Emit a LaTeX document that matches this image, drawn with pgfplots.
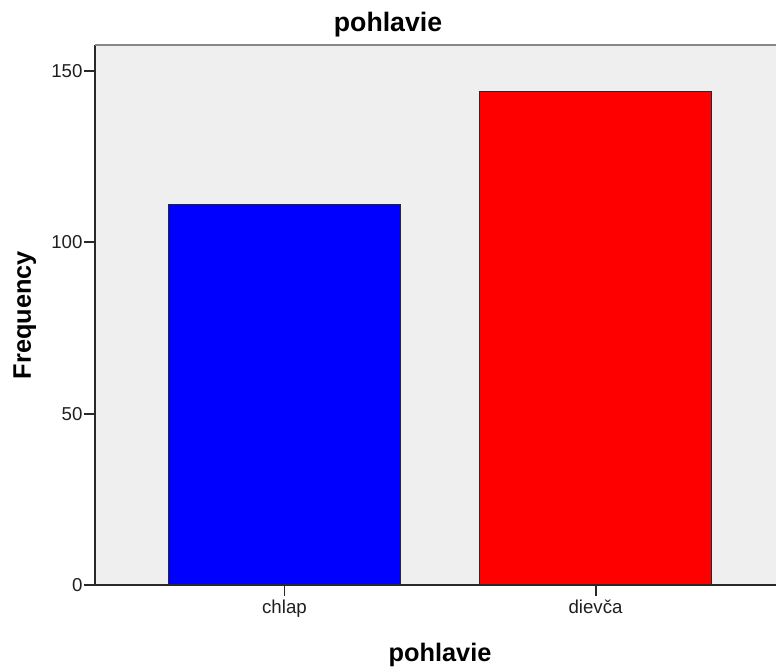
\documentclass[border=0pt]{standalone}
\usepackage{pgfplots}
\pgfplotsset{compat=1.18}
\usepackage{fontspec}
\setmainfont{Liberation Sans}
\definecolor{bgc}{RGB}{239,239,239}
\definecolor{axc}{RGB}{40,40,40}
\definecolor{topc}{RGB}{135,135,135}
\begin{document}
\begin{tikzpicture}
\begin{axis}[
  name=ax, at={(0,0)}, anchor=south west,
  scale only axis, width=510.75pt, height=405pt,
  xmin=-0.609, xmax=1.580, ymin=0, ymax=157.6,
  axis lines*=left,
  axis line style={axc, line width=1.4pt},
  axis background/.style={fill=bgc},
  xtick={0,1}, xticklabels={chlap, dievča},
  ytick={0,50,100,150},
  tick align=outside,
  major tick length=8.25pt,
  tick style={axc, line width=1.4pt},
  tick label style={font=\fontsize{14}{16}\selectfont, text=black!88},
  /pgf/number format/assume math mode=true,
  yticklabel style={inner sep=1pt},
  xticklabel style={inner sep=3pt},
  ybar, bar width=0.746,
]
\addplot[fill=blue, draw=axc, line width=1pt, bar shift=0pt] coordinates {(0,111)};
\addplot[fill=red, draw=axc, line width=1pt, bar shift=0pt] coordinates {(1,144)};
\end{axis}
\draw[topc, line width=1.5pt] (ax.north west) -- (ax.north east);
\node[anchor=base, font=\bfseries\fontsize{20}{24}\selectfont] at ([xshift=219.75pt,yshift=414.75pt]ax.south west) {pohlavie};
\node[anchor=base, rotate=90, font=\bfseries\fontsize{19}{23}\selectfont] at ([xshift=-48pt]ax.west) {Frequency};
\node[anchor=base, font=\bfseries\fontsize{19}{23}\selectfont] at ([xshift=258.75pt,yshift=-57pt]ax.south west) {pohlavie};
\pgfresetboundingbox
\path[use as bounding box] ([xshift=-71.25pt,yshift=-64.5pt]ax.south west) rectangle ([yshift=33.75pt]ax.north east);
\end{tikzpicture}
\end{document}
